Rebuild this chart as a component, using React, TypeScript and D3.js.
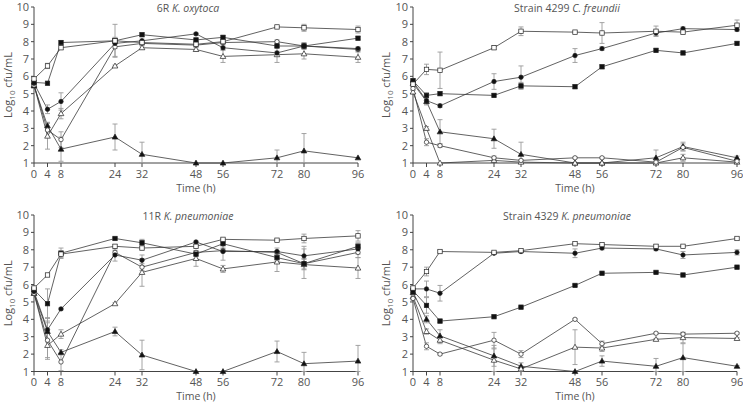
import React from "react";
import * as d3 from "d3";

// ---------- data ----------
const times = [0, 4, 8, 24, 32, 48, 56, 72, 80, 96];
const yTicks = [1, 2, 3, 4, 5, 6, 7, 8, 9, 10];
const titlesPrefix = ["6R ", "Strain 4299 ", "11R ", "Strain 4329 "];
const titlesSpecies = ["K. oxytoca", "C. freundii", "K. pneumoniae", "K. pneumoniae"];

// Panel 1: 6R K. oxytoca
const p1OpenSquare = [5.85, 6.6, 7.65, 8.05, 7.95, 7.85, 8.0, 8.85, 8.8, 8.7];
const p1OpenSquareErr = [0.1, 0.15, 0.1, 0.95, 0.1, 0.1, 0.1, 0.05, 0.2, 0.2];
const p1FilledSquare = [5.65, 5.6, 7.95, 8.05, 8.4, 8.1, 8.25, 7.75, 7.75, 8.2];
const p1FilledSquareErr = [0.1, 0, 0.1, 0.1, 0.1, 0.1, 0.1, 0.1, 0.2, 0.1];
const p1FilledCircle = [5.6, 4.1, 4.55, 7.9, 8.05, 8.45, 7.65, 7.35, 7.75, 7.6];
const p1FilledCircleErr = [0.1, 0.25, 0.5, 0.3, 0.1, 0.05, 0.1, 0.1, 0.15, 0.1];
const p1OpenCircle = [5.5, 2.9, 2.35, 7.7, 7.9, 7.8, 7.95, 8.0, 7.75, 7.55];
const p1OpenCircleErr = [0.1, 0.4, 0.45, 0.55, 0.1, 0.1, 0.1, 0.1, 0.1, 0.1];
const p1OpenTriangle = [5.5, 2.55, 3.85, 6.6, 7.65, 7.55, 7.15, 7.25, 7.3, 7.1];
const p1OpenTriangleErr = [0.1, 0.75, 0.3, 0.05, 0.1, 0.1, 0.35, 0.45, 0.3, 0.3];
const p1FilledTriangle = [5.45, 3.15, 1.8, 2.5, 1.5, 1.0, 1.0, 1.3, 1.7, 1.3];
const p1FilledTriangleErr = [0.1, 0.2, 0.7, 0.75, 0.7, 0, 0, 0.45, 1.0, 0];

// Panel 2: Strain 4299 C. freundii
const p2OpenSquare = [5.55, 6.4, 6.35, 7.65, 8.6, 8.55, 8.5, 8.6, 8.55, 8.95];
const p2OpenSquareErr = [0.1, 0.3, 1.05, 0.1, 0.25, 0.05, 0.6, 0.3, 0.1, 0.3];
const p2FilledSquare = [5.75, 4.9, 5.0, 4.9, 5.45, 5.4, 6.55, 7.5, 7.35, 7.9];
const p2FilledSquareErr = [0.1, 0.15, 0.1, 0.1, 0.2, 0.1, 0.1, 0.1, 0.1, 0.1];
const p2FilledCircle = [5.7, 4.6, 4.3, 5.7, 5.95, 7.2, 7.6, 8.5, 8.75, 8.7];
const p2FilledCircleErr = [0.1, 0.2, 0.1, 0.45, 0.65, 0.4, 0.1, 0.15, 0.1, 0.1];
const p2OpenCircle = [5.3, 2.2, 2.0, 1.3, 1.15, 1.3, 1.3, 1.05, 1.9, 1.1];
const p2OpenCircleErr = [0.1, 0.2, 0.1, 0.1, 0.05, 0.05, 0.05, 0.05, 0.2, 0.1];
const p2OpenTriangle = [5.1, 3.0, 1.0, 1.15, 1.05, 1.0, 1.0, 1.0, 1.3, 1.05];
const p2OpenTriangleErr = [0.1, 0.1, 0, 0.1, 0.05, 0, 0, 0, 0.2, 0.1];
const p2FilledTriangle = [5.6, 4.55, 2.8, 2.4, 1.5, 1.0, 1.0, 1.3, 1.95, 1.3];
const p2FilledTriangleErr = [0.1, 0.2, 0.7, 0.55, 0.7, 0, 0, 0.45, 0.25, 0.1];

// Panel 3: 11R K. pneumoniae
const p3OpenSquare = [5.8, 6.55, 7.75, 8.2, 8.1, 8.2, 8.6, 8.55, 8.65, 8.8];
const p3OpenSquareErr = [0.1, 0.05, 0.2, 0.1, 0.1, 0.1, 0.05, 0.05, 0.25, 0.3];
const p3FilledSquare = [5.7, 4.9, 7.8, 8.65, 8.4, 7.75, 8.35, 7.55, 7.2, 8.2];
const p3FilledSquareErr = [0.1, 0.85, 0.3, 0.05, 0.2, 0.1, 0.25, 0.2, 0.3, 0.2];
const p3FilledCircle = [5.6, 3.4, 4.6, 7.7, 7.4, 8.45, 7.9, 7.9, 7.65, 8.05];
const p3FilledCircleErr = [0.1, 0.7, 0.05, 0.35, 0.3, 0.05, 0.5, 0.2, 0.55, 0.3];
const p3OpenCircle = [5.5, 2.8, 1.55, 7.85, 7.0, 7.85, 7.95, 7.85, 7.2, 7.85];
const p3OpenCircleErr = [0.1, 1.1, 0.5, 0.1, 0.2, 0.1, 0.1, 0.1, 0.85, 0.3];
const p3OpenTriangle = [5.5, 2.5, 3.15, 4.9, 6.7, 7.5, 6.9, 7.3, 7.15, 6.95];
const p3OpenTriangleErr = [0.1, 0.7, 0.25, 0.05, 0.8, 0.45, 0.2, 0.55, 0.3, 0.6];
const p3FilledTriangle = [5.5, 3.3, 2.1, 3.3, 1.95, 1.0, 1.0, 2.15, 1.45, 1.6];
const p3FilledTriangleErr = [0.1, 0.5, 0.15, 0.25, 0.85, 0, 0, 0.6, 0.65, 0.9];

// Panel 4: Strain 4329 K. pneumoniae
const p4OpenSquare = [5.8, 6.75, 7.9, 7.85, 7.95, 8.35, 8.3, 8.2, 8.2, 8.65];
const p4OpenSquareErr = [0.1, 0.25, 0.05, 0.05, 0.05, 0.05, 0.05, 0.1, 0.05, 0.05];
const p4FilledSquare = [5.65, 4.8, 3.9, 4.15, 4.7, 5.95, 6.65, 6.7, 6.55, 7.0];
const p4FilledSquareErr = [0.1, 0.45, 0.1, 0.05, 0.05, 0.05, 0.05, 0.05, 0.05, 0.05];
const p4FilledCircle = [5.75, 5.75, 5.5, 7.8, 7.9, 7.8, 8.1, 8.05, 7.7, 7.85];
const p4FilledCircleErr = [0.1, 0.45, 0.45, 0.05, 0.05, 0.25, 0.1, 0.1, 0.2, 0.15];
const p4OpenCircle = [5.2, 2.45, 2.0, 2.8, 2.0, 4.0, 2.6, 3.2, 3.15, 3.2];
const p4OpenCircleErr = [0.1, 0.2, 0.05, 0.45, 0.2, 0.05, 0.15, 0.05, 0.1, 0.05];
const p4OpenTriangle = [5.3, 3.3, 2.8, 1.65, 1.15, 2.4, 2.35, 2.85, 2.95, 2.9];
const p4OpenTriangleErr = [0.1, 0.15, 0.2, 0.65, 0.15, 1.0, 0.2, 0.05, 0.3, 0.05];
const p4FilledTriangle = [5.55, 4.0, 3.05, 1.9, 1.3, 1.0, 1.6, 1.3, 1.8, 1.3];
const p4FilledTriangleErr = [0.1, 0.2, 0.35, 0.6, 0.2, 0, 0.3, 0.45, 0.8, 0.05];

type Kind = "os" | "fs" | "fc" | "oc" | "ot" | "ft";
type Series = { kind: Kind; values: number[]; err: number[] };

const panelSeries: Series[][] = [
  [
    { kind: "ft", values: p1FilledTriangle, err: p1FilledTriangleErr },
    { kind: "ot", values: p1OpenTriangle, err: p1OpenTriangleErr },
    { kind: "oc", values: p1OpenCircle, err: p1OpenCircleErr },
    { kind: "fc", values: p1FilledCircle, err: p1FilledCircleErr },
    { kind: "fs", values: p1FilledSquare, err: p1FilledSquareErr },
    { kind: "os", values: p1OpenSquare, err: p1OpenSquareErr },
  ],
  [
    { kind: "ft", values: p2FilledTriangle, err: p2FilledTriangleErr },
    { kind: "ot", values: p2OpenTriangle, err: p2OpenTriangleErr },
    { kind: "oc", values: p2OpenCircle, err: p2OpenCircleErr },
    { kind: "fc", values: p2FilledCircle, err: p2FilledCircleErr },
    { kind: "fs", values: p2FilledSquare, err: p2FilledSquareErr },
    { kind: "os", values: p2OpenSquare, err: p2OpenSquareErr },
  ],
  [
    { kind: "ft", values: p3FilledTriangle, err: p3FilledTriangleErr },
    { kind: "ot", values: p3OpenTriangle, err: p3OpenTriangleErr },
    { kind: "oc", values: p3OpenCircle, err: p3OpenCircleErr },
    { kind: "fc", values: p3FilledCircle, err: p3FilledCircleErr },
    { kind: "fs", values: p3FilledSquare, err: p3FilledSquareErr },
    { kind: "os", values: p3OpenSquare, err: p3OpenSquareErr },
  ],
  [
    { kind: "ft", values: p4FilledTriangle, err: p4FilledTriangleErr },
    { kind: "ot", values: p4OpenTriangle, err: p4OpenTriangleErr },
    { kind: "oc", values: p4OpenCircle, err: p4OpenCircleErr },
    { kind: "fc", values: p4FilledCircle, err: p4FilledCircleErr },
    { kind: "fs", values: p4FilledSquare, err: p4FilledSquareErr },
    { kind: "os", values: p4OpenSquare, err: p4OpenSquareErr },
  ],
];

// ---------- layout ----------
const W = 743;
const H = 403;
const panels = [
  { x0: 34, x1: 358, yTop: 7, yBot: 163, labelX: 12 },
  { x0: 413, x1: 737, yTop: 7, yBot: 163, labelX: 390 },
  { x0: 34, x1: 358, yTop: 215, yBot: 371.5, labelX: 12 },
  { x0: 413, x1: 737, yTop: 215, yBot: 371.5, labelX: 390 },
];

const FONT = "'Open Sans', 'DejaVu Sans', sans-serif";
const TEXT = "#555";
const LINE = "#3a3a3a";
const ERR = "#9a9a9a";

function Marker({ kind, x, y }: { kind: Kind; x: number; y: number }) {
  const filled = kind[0] === "f";
  const fill = filled ? "#111" : "#fff";
  const stroke = "#222";
  if (kind === "os" || kind === "fs") {
    const s = 4.4;
    return <rect x={x - s / 2} y={y - s / 2} width={s} height={s} fill={fill} stroke={stroke} strokeWidth={0.7} />;
  }
  if (kind === "oc" || kind === "fc") {
    return <circle cx={x} cy={y} r={2.2} fill={fill} stroke={stroke} strokeWidth={0.7} />;
  }
  const sym = d3.symbol().type(d3.symbolTriangle).size(14)();
  return <path d={sym || ""} transform={`translate(${x},${y + 0.4})`} fill={fill} stroke={stroke} strokeWidth={0.7} />;
}

function Panel({ idx }: { idx: number }) {
  const p = panels[idx];
  const x = d3.scaleLinear().domain([0, 96]).range([p.x0, p.x1]);
  const y = d3.scaleLinear().domain([1, 10]).range([p.yBot, p.yTop]);
  const line = d3
    .line<number>()
    .x((_, i) => x(times[i]))
    .y((v) => y(v));
  const series = panelSeries[idx];
  const midY = (p.yTop + p.yBot) / 2;
  return (
    <g>
      {/* title */}
      <text x={(p.x0 + p.x1) / 2 - 8} y={p.yTop + 5} textAnchor="middle" fontSize={10.5} fill={TEXT} fontFamily={FONT}>
        {titlesPrefix[idx]}
        <tspan fontStyle="italic">{titlesSpecies[idx]}</tspan>
      </text>
      {/* axes */}
      <line x1={p.x0} x2={p.x0} y1={p.yTop} y2={p.yBot} stroke="#444" strokeWidth={1} />
      <line x1={p.x0} x2={p.x1} y1={p.yBot} y2={p.yBot} stroke="#444" strokeWidth={1} />
      {yTicks.map((t) => (
        <g key={`y${t}`}>
          <line x1={p.x0 - 3} x2={p.x0} y1={y(t)} y2={y(t)} stroke="#444" strokeWidth={1} />
          <text x={p.x0 - 5} y={y(t) + 4} textAnchor="end" fontSize={11} fill={TEXT} fontFamily={FONT}>
            {t}
          </text>
        </g>
      ))}
      {times.map((t) => (
        <g key={`x${t}`}>
          <line x1={x(t)} x2={x(t)} y1={p.yBot} y2={p.yBot + 4} stroke="#444" strokeWidth={1} />
          <text x={x(t)} y={p.yBot + 14.5} textAnchor="middle" fontSize={11} fill={TEXT} fontFamily={FONT}>
            {t}
          </text>
        </g>
      ))}
      <text x={x(48)} y={p.yBot + 28.5} textAnchor="middle" fontSize={10.5} fill={TEXT} fontFamily={FONT}>
        Time (h)
      </text>
      <text
        transform={`translate(${p.labelX},${midY}) rotate(-90)`}
        textAnchor="middle"
        fontSize={11}
        fill={TEXT}
        fontFamily={FONT}
      >
        Log<tspan fontSize={8} dy={3}>10</tspan>
        <tspan dy={-3}> cfu/mL</tspan>
      </text>
      {/* lines */}
      {series.map((s, i) => (
        <path key={`l${i}`} d={line(s.values) || ""} fill="none" stroke={LINE} strokeWidth={0.8} />
      ))}
      {/* error bars */}
      {series.map((s, i) =>
        s.values.map((v, j) => {
          const e = s.err[j];
          if (!e) return null;
          const xx = x(times[j]);
          const hi = y(Math.min(v + e, 10));
          const lo = y(Math.max(v - e, 1));
          return (
            <g key={`e${i}-${j}`} stroke={ERR} strokeWidth={0.9}>
              <line x1={xx} x2={xx} y1={hi} y2={lo} />
              <line x1={xx - 2.5} x2={xx + 2.5} y1={hi} y2={hi} />
              <line x1={xx - 2.5} x2={xx + 2.5} y1={lo} y2={lo} />
            </g>
          );
        })
      )}
      {/* markers */}
      {series.map((s, i) =>
        s.values.map((v, j) => <Marker key={`m${i}-${j}`} kind={s.kind} x={x(times[j])} y={y(v)} />)
      )}
    </g>
  );
}

export default function App() {
  return (
    <svg
      width={W}
      height={H}
      viewBox={`0 0 ${W} ${H}`}
      style={{ position: "absolute", left: 0, top: 0, background: "#fff" }}
    >
      <rect width={W} height={H} fill="#fff" />
      {[0, 1, 2, 3].map((i) => (
        <Panel key={i} idx={i} />
      ))}
    </svg>
  );
}
